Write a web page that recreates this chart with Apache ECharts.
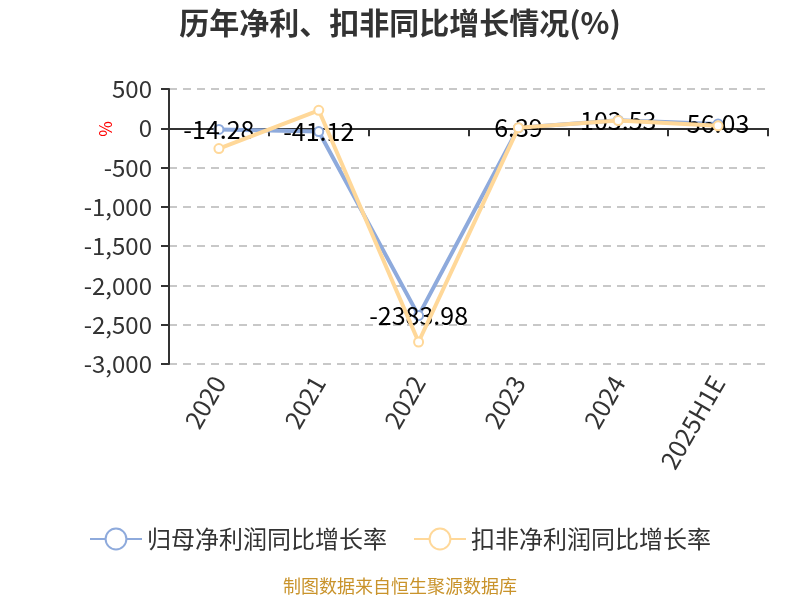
<!DOCTYPE html>
<html>
<head>
<meta charset="utf-8">
<script src="https://cdn.jsdelivr.net/npm/echarts@6/dist/echarts.min.js"></script>
<style>html,body{margin:0;padding:0;background:#fff}#c{width:800px;height:600px}</style>
</head>
<body>
<div id="c"></div>
<script>
var categories = ['2020', '2021', '2022', '2023', '2024', '2025H1E'];
var netProfitGrowth = [-14.28, -41.12, -2383.98, 6.39, 103.53, 56.03];
var deductedGrowth = [-258, 229, -2720, 8, 98, 32];
var seriesNames = ['归母净利润同比增长率', '扣非净利润同比增长率'];
var yTicks = { min: -3000, max: 500, interval: 500 };

var FONT = '"Noto Sans CJK SC", "Noto Sans", sans-serif';
var chart = echarts.init(document.getElementById('c'));
chart.setOption({
  backgroundColor: '#fff',
  animation: false,
  title: {
    text: '历年净利、扣非同比增长情况(%)',
    left: 'center', top: 3,
    textStyle: { fontSize: 30, fontWeight: 'bold', color: '#333', fontFamily: FONT }
  },
  legend: {
    bottom: 44, left: 'center',
    itemWidth: 52, itemHeight: 26, itemGap: 26,
    textStyle: { fontSize: 24, color: '#333', fontFamily: FONT },
    data: seriesNames
  },
  graphic: [
    { type: 'text', left: 97, top: 121, rotation: Math.PI / 2,
      style: { text: '%', fill: '#ff0000', fontSize: 17, fontFamily: FONT } },
    { type: 'text', left: 'center', top: 577,
      style: { text: '制图数据来自恒生聚源数据库', fill: '#c9932b', fontSize: 18, fontFamily: FONT } }
  ],
  grid: { left: 169, right: 32, top: 89, bottom: 236 },
  xAxis: [
    {
      type: 'category', data: categories, boundaryGap: true,
      axisLine: { onZero: true, lineStyle: { color: '#333', width: 2 } },
      axisTick: { show: true, length: 8, lineStyle: { color: '#333', width: 2 } },
      axisLabel: { show: false }
    },
    {
      type: 'category', data: categories, boundaryGap: true, position: 'bottom',
      axisLine: { show: false }, axisTick: { show: false },
      axisLabel: { rotate: 60, margin: 14, fontSize: 25, color: '#333', fontFamily: FONT, interval: 0 }
    }
  ],
  yAxis: {
    type: 'value', min: yTicks.min, max: yTicks.max, interval: yTicks.interval,
    axisLine: { show: true, lineStyle: { color: '#333', width: 2 } },
    axisTick: { show: true, length: 8, lineStyle: { color: '#333', width: 2 } },
    axisLabel: { fontSize: 24, color: '#333', fontFamily: FONT, margin: 17 },
    splitLine: { show: true, lineStyle: { type: [8, 6], color: '#c8c8c8', width: 2 } }
  },
  series: [
    {
      name: seriesNames[0], type: 'line', data: netProfitGrowth,
      xAxisIndex: 0,
      symbol: 'circle', symbolSize: 9,
      lineStyle: { color: '#8eaadc', width: 4 },
      itemStyle: { color: '#fff', borderColor: '#8eaadc', borderWidth: 2 },
      label: { show: true, position: 'inside', fontSize: 25, color: '#000', fontFamily: FONT },
      z: 2
    },
    {
      name: seriesNames[1], type: 'line', data: deductedGrowth,
      xAxisIndex: 0,
      symbol: 'circle', symbolSize: 9,
      lineStyle: { color: '#ffd899', width: 4 },
      itemStyle: { color: '#fff', borderColor: '#ffd899', borderWidth: 2 },
      label: { show: false },
      z: 3
    }
  ]
});
</script>
</body>
</html>
